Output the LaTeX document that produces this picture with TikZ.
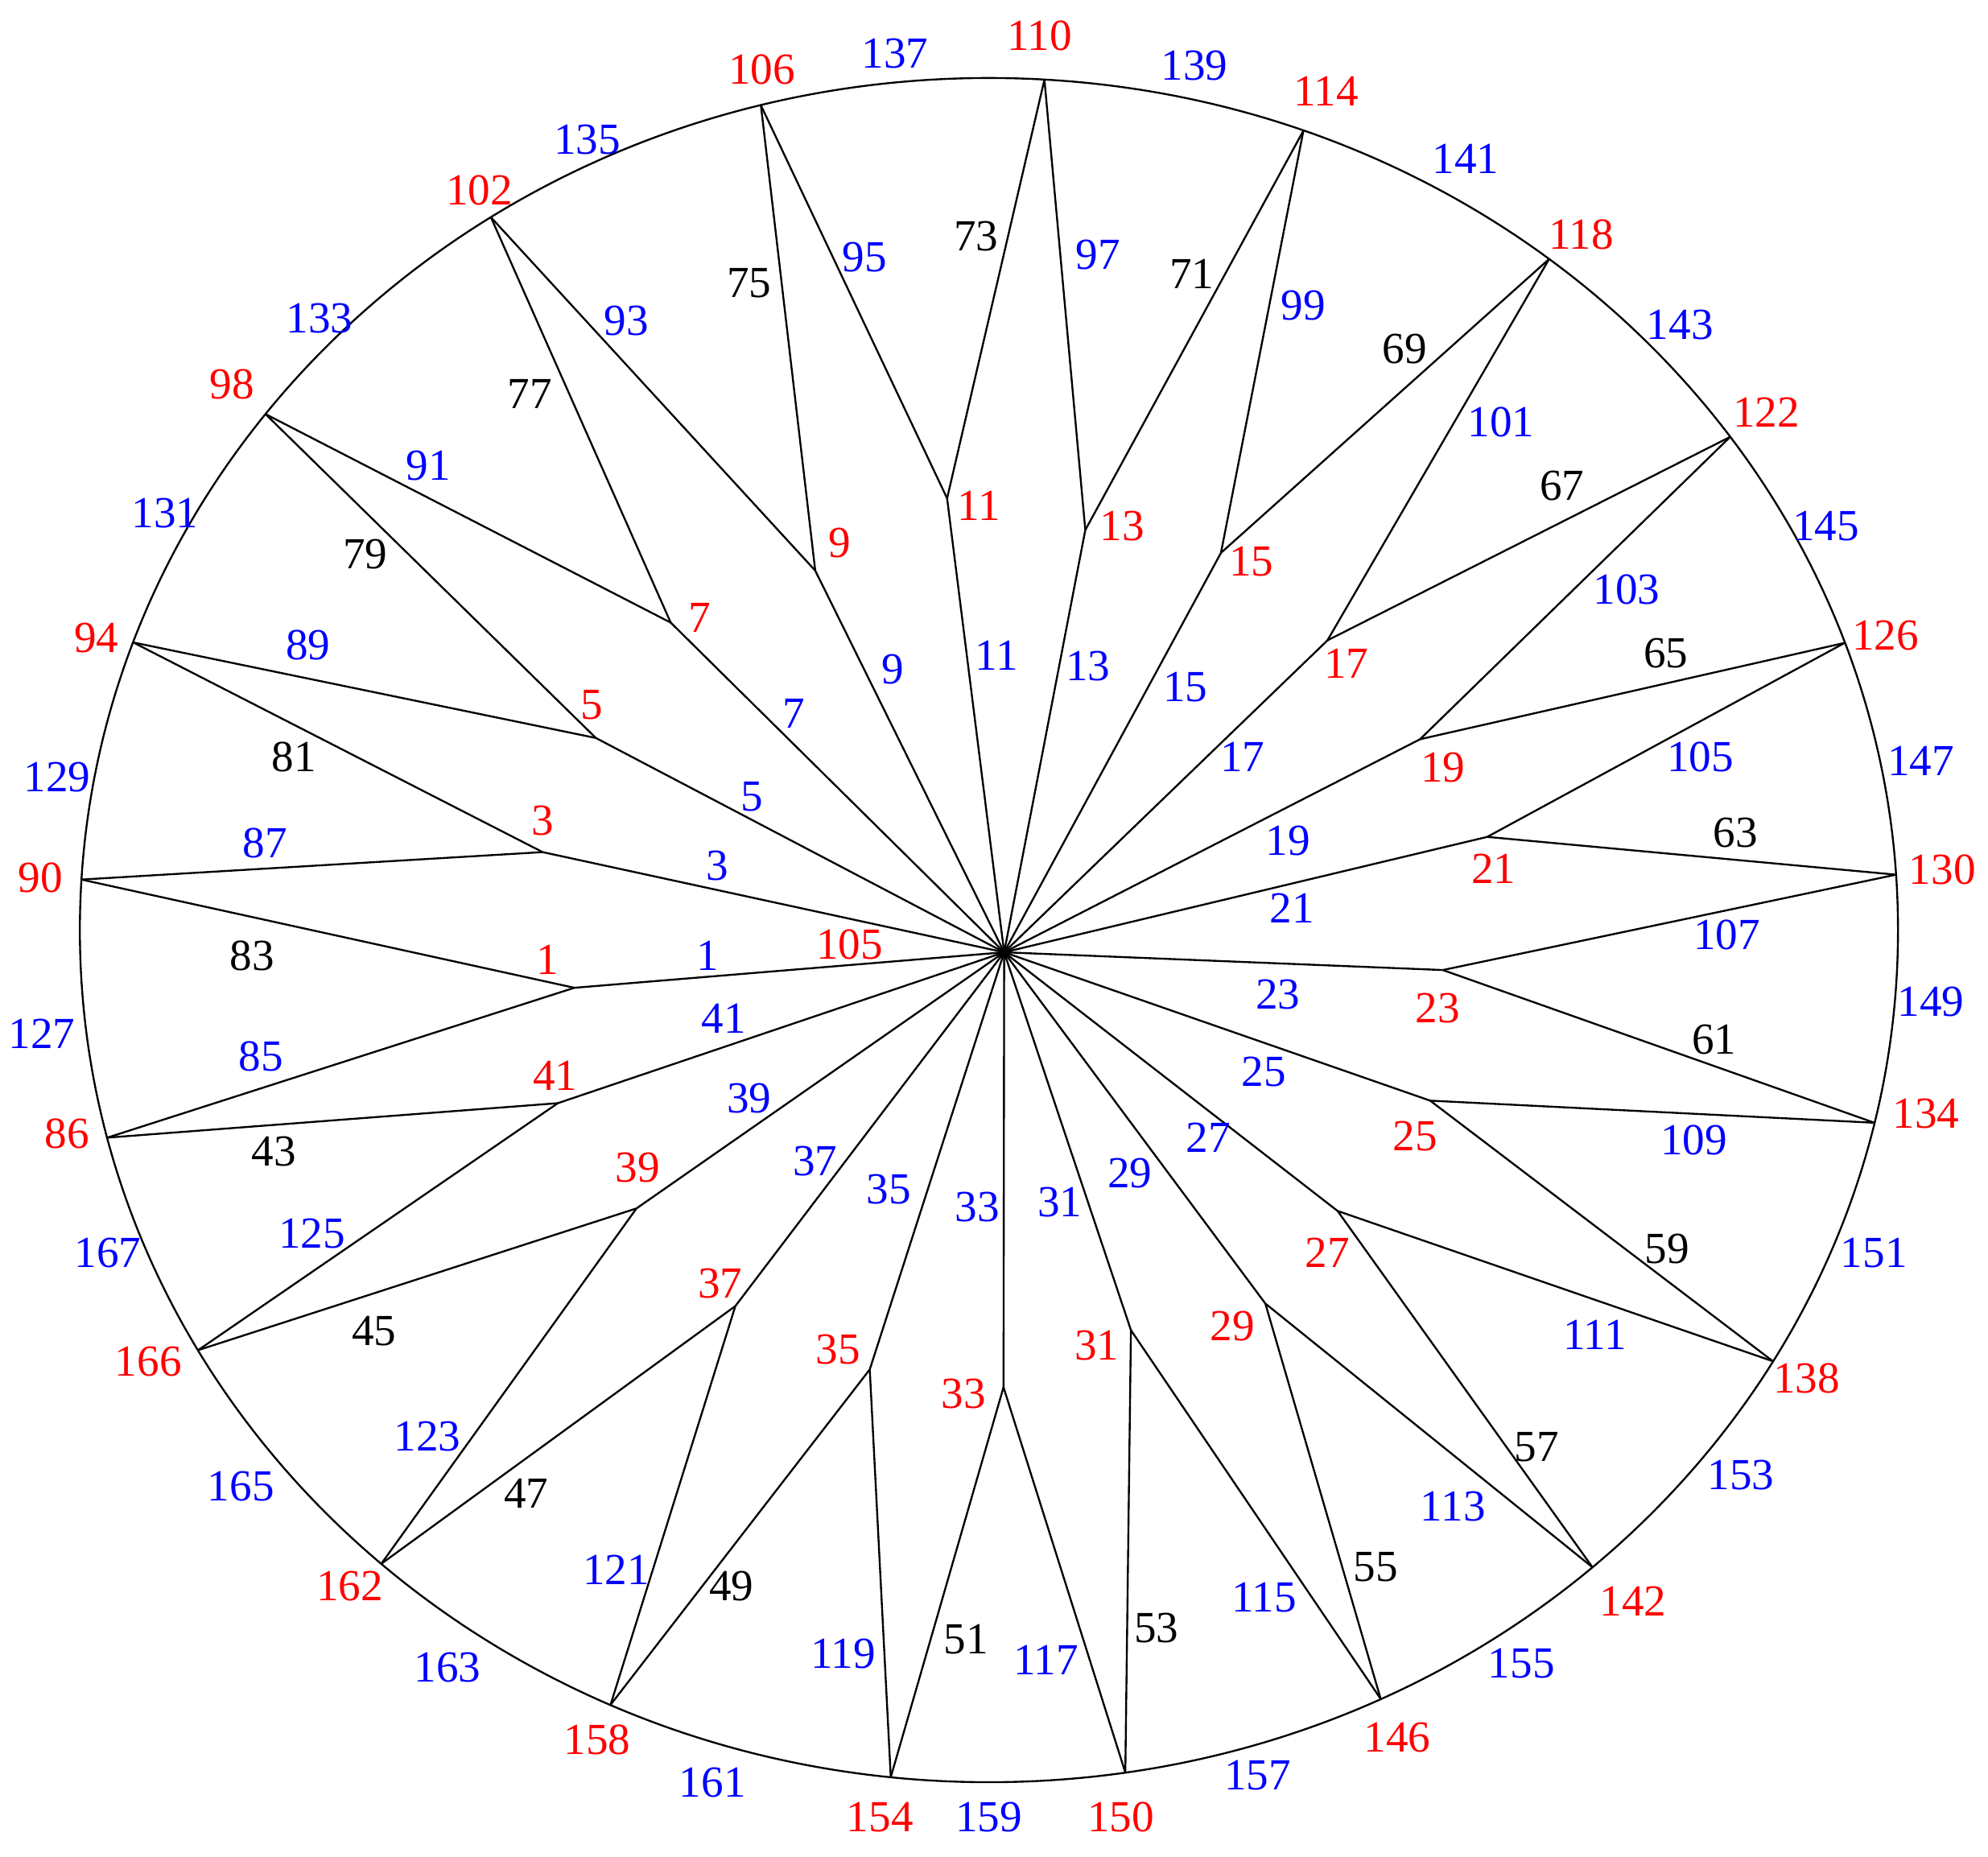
\documentclass[tikz,border=0pt]{standalone}
\usepackage{fontspec}
\setmainfont{Liberation Serif}
\definecolor{lblred}{RGB}{255,0,0}
\definecolor{lblblue}{RGB}{0,0,255}
\tikzset{
  edge/.style={draw=black, line width=0.75pt},
  lbl/.style={inner sep=0pt, font=\fontsize{17.5}{20}\selectfont},
  rlbl/.style={lbl, text=lblred},
  blbl/.style={lbl, text=lblblue},
  klbl/.style={lbl, text=black}
}
\begin{document}
\begin{tikzpicture}[x=0.5pt, y=-0.5pt]
\useasboundingbox (0,0) rectangle (1568,1464);
\fill[white] (0,0) rectangle (1568,1464);
% outer ellipse
\draw[edge] (780,733.5) ellipse [x radius=717, y radius=672];
% hub
\coordinate (c) at (792,751);
% outer vertices on ellipse
\foreach \n/\a in {110/86.5, 114/69.76, 118/51.96, 122/35.37, 126/19.7, 130/3.73,
  134/-13.07, 138/-30.4, 142/-48.4, 146/-64.47, 150/-81.37, 154/-96.2,
  158/-114.6, 162/-131.95, 166/-150.46, 86/-165.9, 90/176.6, 94/160.27,
  98/142.73, 102/123.22, 106/104.53}
  \coordinate (o\n) at ({780+717*cos(\a)},{733.5-672*sin(\a)});
% inner vertices
\foreach \n/\x/\y in {1/453/779, 3/428/672, 5/470/582, 7/529/491, 9/643/450,
  11/747/393, 13/856/418, 15/963/436, 17/1047/505, 19/1120/583, 21/1173/660,
  23/1138/765, 25/1128/868, 27/1055/955, 29/998/1028, 31/892/1049,
  33/791.5/1094, 35/686/1080, 37/580/1030, 39/502/953, 41/440/870}
  \coordinate (i\n) at (\x,\y);
% spokes
\foreach \n in {1,3,...,41}
  \draw[edge] (c) -- (i\n);
% inner to outer
\foreach \i/\a/\b in {1/90/86, 3/94/90, 5/98/94, 7/102/98, 9/106/102,
  11/110/106, 13/114/110, 15/118/114, 17/122/118, 19/126/122, 21/130/126,
  23/134/130, 25/138/134, 27/142/138, 29/146/142, 31/150/146, 33/154/150,
  35/158/154, 37/162/158, 39/166/162, 41/86/166}
  {\draw[edge] (i\i) -- (o\a); \draw[edge] (i\i) -- (o\b);}
% red outer vertex labels
\foreach \t/\x/\y in {110/820/28, 114/1046/72, 118/1247/185, 122/1393/325,
  126/1487/501, 130/1532/686, 134/1519/878, 138/1425/1087, 142/1288/1263,
  146/1102/1370, 150/884/1433, 154/694/1433, 158/471/1372, 162/276/1251,
  166/117/1074, 86/53/894, 90/32/692, 94/76/503, 98/183/303, 102/378/150,
  106/601/55}
  \node[rlbl] (ro\t) at (\x,\y) {\t};
% red inner vertex labels
\foreach \t/\x/\y in {1/432/757, 3/428/647, 5/467/556, 7/552/487, 9/662/428,
  11/772/399, 13/885/415, 15/987/443, 17/1062/523, 19/1138/605, 21/1178/685,
  23/1134/795, 25/1116/896, 27/1047/988, 29/972/1046, 31/865/1061,
  33/760/1099, 35/661/1064, 37/568/1012, 39/503/921, 41/438/848, 105/670/745}
  \node[rlbl] (ri\t) at (\x,\y) {\t};
% blue arc labels
\foreach \t/\x/\y in {137/706/42, 139/942/52, 141/1156/125, 143/1325/256,
  145/1440/415, 147/1515/600, 149/1523/790, 151/1478/988, 153/1373/1163,
  155/1200/1312, 157/992/1400, 159/780/1433, 161/562/1406, 163/353/1315,
  165/190/1172, 167/85/988, 127/33/815, 129/45/613, 131/130/405,
  133/252/251, 135/463/110}
  \node[blbl] (ba\t) at (\x,\y) {\t};
% blue spoke labels
\foreach \t/\x/\y in {1/558/754, 3/566/683, 5/593/628, 7/626/563, 9/704/528,
  11/786/517, 13/858/525, 15/935/542, 17/980/597, 19/1016/663, 21/1019/716,
  23/1008/784, 25/997/845, 27/953/897, 29/891/925, 31/836/948, 33/771/952,
  35/701/938, 37/643/916, 39/591/866, 41/571/803}
  \node[blbl] (bs\t) at (\x,\y) {\t};
% blue outer-edge labels
\foreach \t/\x/\y in {85/206/833, 87/209/665, 89/243/509, 91/338/367,
  93/494/253, 95/682/203, 97/866/201, 99/1028/241, 101/1184/333,
  103/1283/465, 105/1341/597, 107/1362/737, 109/1336/899, 111/1258/1053,
  113/1146/1188, 115/997/1260, 117/825/1309, 119/665/1304, 121/486/1238,
  123/337/1133, 125/246/973}
  \node[blbl] (be\t) at (\x,\y) {\t};
% black outer-edge labels
\foreach \t/\x/\y in {43/216/908, 45/295/1050, 47/415/1178, 49/577/1251,
  51/762/1293, 53/912/1284, 55/1085/1236, 57/1212/1141, 59/1315/985,
  61/1352/820, 63/1369/657, 65/1314/515, 67/1232/383, 69/1108/275,
  71/940/216, 73/770/186, 75/591/223, 77/418/311, 79/288/437, 81/232/597,
  83/199/754}
  \node[klbl] (ke\t) at (\x,\y) {\t};
\end{tikzpicture}
\end{document}
